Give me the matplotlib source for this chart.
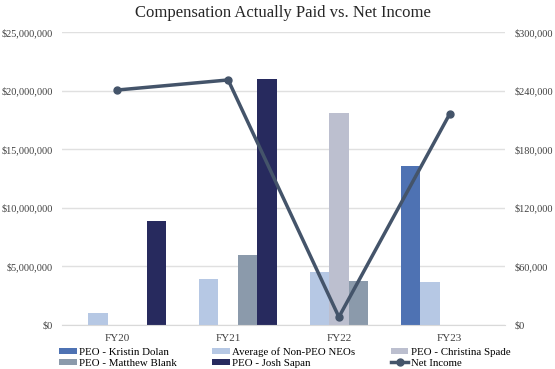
import matplotlib
matplotlib.use("Agg")
import matplotlib.pyplot as plt
import numpy as np
from matplotlib.ticker import FuncFormatter

plt.rcParams['font.family'] = ['Liberation Serif', 'DejaVu Serif']

years = ["FY20", "FY21", "FY22", "FY23"]
series_names = ["PEO - Kristin Dolan", "Average of Non-PEO NEOs", "PEO - Christina Spade",
                "PEO - Matthew Blank", "PEO - Josh Sapan"]
dolan = [0, 0, 0, 13570000]
non_peo = [1020000, 3920000, 4520000, 3670000]
spade = [0, 0, 18090000, 0]
blank = [0, 5970000, 3750000, 0]
sapan = [8870000, 21000000, 0, 0]
net_income = [240600, 250900, 8200, 216000]

colors = ["#4e72b3", "#b6c8e4", "#bcbfcf", "#8b9aab", "#272a5e"]
line_color = "#44546a"

fig = plt.figure(figsize=(5.55, 3.69), dpi=100)
ax = fig.add_axes([0.1117, 0.1192, 0.7983, 0.7941])
x = np.arange(len(years))
w = 0.176
all_series = [dolan, non_peo, spade, blank, sapan]
handles = []
for i, (vals, name, c) in enumerate(zip(all_series, series_names, colors)):
    h = ax.bar(x + (i - 2) * w, vals, width=w, color=c, label=name, zorder=2)
    handles.append(h)

ax.set_ylim(0, 25000000)
ax.set_yticks(np.arange(0, 25000001, 5000000))
ax.yaxis.set_major_formatter(FuncFormatter(lambda v, p: "${:,.0f}".format(v)))
ax.set_xlim(-0.5, 3.5)
ax.set_xticks(x)
ax.set_xticklabels(years)
ax.grid(axis='y', color='#e0e0e0', linewidth=1, zorder=0)
for s in ax.spines.values():
    s.set_visible(False)
ax.spines['bottom'].set_visible(True)
ax.spines['bottom'].set_color('#d9d9d9')
ax.tick_params(axis='y', length=0, labelsize=7.4, colors='#404040', pad=6.5)
ax.tick_params(axis='x', length=0, pad=6.5, labelsize=8, colors='#404040')

ax2 = ax.twinx()
ln, = ax2.plot(x, net_income, color=line_color, linewidth=2.5, marker='o', markersize=5,
               label="Net Income", zorder=3)
ax2.set_ylim(0, 300000)
ax2.set_yticks(np.arange(0, 300001, 60000))
ax2.yaxis.set_major_formatter(FuncFormatter(lambda v, p: "${:,.0f}".format(v)))
for s in ax2.spines.values():
    s.set_visible(False)
ax2.tick_params(axis='y', length=0, labelsize=7.4, colors='#404040', pad=7)

fig.text(0.51, 0.965, "Compensation Actually Paid vs. Net Income", ha='center', va='center',
         fontsize=12, color='#262626')

order = [handles[0], handles[3], handles[1], handles[4], handles[2], ln]
labels = [h.get_label() for h in order]
fig.legend(order, labels, ncol=3, loc='lower left', bbox_to_anchor=(0.1045, 0.0),
           frameon=False, fontsize=7.8, handlelength=1.65, handleheight=0.5,
           columnspacing=3.25, handletextpad=0.2, labelspacing=0.2, borderaxespad=0,
           borderpad=0.1)

fig.savefig("out.png", dpi=100)
